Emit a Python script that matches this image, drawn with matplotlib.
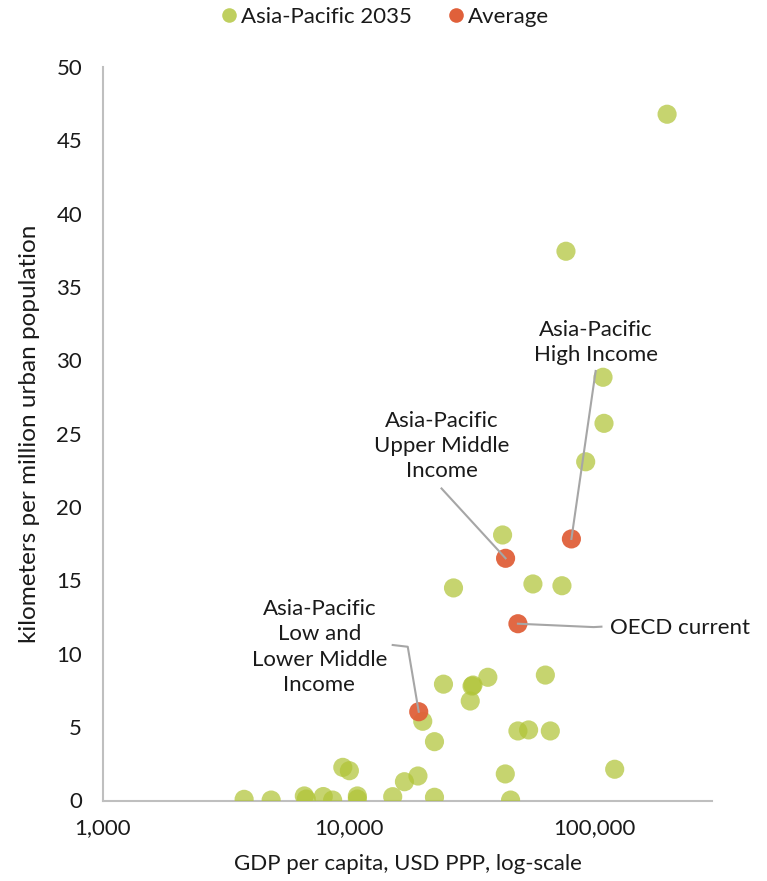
import matplotlib
matplotlib.use("Agg")
import matplotlib.pyplot as plt
from matplotlib.lines import Line2D

plt.rcParams['font.family'] = ['Lato', 'DejaVu Sans']

# Asia-Pacific 2035 points: GDP per capita (USD PPP) and km per million urban population
ap_gdp = [3750, 4830, 6590, 6710, 7870, 8590, 9450, 10050, 10830, 10830,
          15080, 16830, 19100, 19980, 22300, 22300, 24260, 26650, 31990, 31700,
          36760, 31170, 42200, 56070, 73580, 62990, 48720, 53850, 65990, 120600,
          43280, 45480, 76400, 108100, 109100, 91900, 197000]
ap_km = [0.08, 0.03, 0.31, 0.10, 0.27, 0.03, 2.26, 2.03, 0.31, 0.10,
         0.26, 1.28, 1.67, 5.40, 4.01, 0.22, 7.93, 14.49, 7.87, 7.80,
         8.40, 6.78, 18.10, 14.76, 14.64, 8.55, 4.74, 4.81, 4.74, 2.13,
         1.81, 0.03, 37.44, 28.85, 25.71, 23.09, 46.78]

# Averages
avg_names = ["Asia-Pacific\nLow and\nLower Middle\nIncome",
             "Asia-Pacific\nUpper Middle\nIncome",
             "Asia-Pacific\nHigh Income",
             "OECD current"]
avg_gdp = [19240, 43400, 80400, 48720]
avg_km = [6.05, 16.51, 17.83, 12.05]

x_ticks = [1000, 10000, 100000]
x_ticklabels = ["1,000", "10,000", "100,000"]
y_ticks = [0, 5, 10, 15, 20, 25, 30, 35, 40, 45, 50]

GREEN = "#b0c437"
ORANGE = "#e0603a"
GRAY = "#a6a6a6"
AXGRAY = "#bfbfbf"
TXT = "#1a1a1a"
FS = 16
LS = 1.32

fig = plt.figure(figsize=(7.67, 8.81), dpi=100)
ax = fig.add_axes([103/767, 1-800.5/881, (712-103)/767, (800.5-67)/881])

ax.scatter(ap_gdp, ap_km, s=190, color=GREEN, alpha=0.72, edgecolors='none', zorder=3)
ax.scatter(avg_gdp, avg_km, s=190, color=ORANGE, alpha=0.95, edgecolors='none', zorder=4)

ax.set_xscale('log')
ax.set_xlim(1000, 300000)
ax.set_ylim(0, 50)
ax.set_xticks(x_ticks)
ax.set_xticklabels(x_ticklabels)
ax.minorticks_off()
ax.set_yticks(y_ticks)
ax.tick_params(axis='both', length=0, labelsize=FS, colors=TXT)
ax.tick_params(axis='x', pad=13)
ax.tick_params(axis='y', pad=15)
for s in ['top', 'right']:
    ax.spines[s].set_visible(False)
for s in ['left', 'bottom']:
    ax.spines[s].set_color(AXGRAY)
    ax.spines[s].set_linewidth(1.5)
ax.spines['left'].set_zorder(1)
ax.spines['bottom'].set_zorder(1)

ax.set_xlabel("GDP per capita, USD PPP, log-scale", fontsize=FS, color=TXT, labelpad=11)
ax.set_ylabel("kilometers per million urban population", fontsize=17.5, color=TXT, labelpad=12)

# Annotations with leader lines
lw = 1.5
# Low and lower middle
ax.plot([15080, 17360, avg_gdp[0]], [10.60, 10.48, avg_km[0]], color=GRAY, lw=lw, zorder=5)
ax.text(7586, 10.46, avg_names[0], ha='center', va='center', fontsize=FS, color=TXT, linespacing=LS)
# Upper middle
ax.plot([23820, avg_gdp[1]], [21.27, avg_km[1]], color=GRAY, lw=lw, zorder=5)
ax.text(23820, 24.17, avg_names[1], ha='center', va='center', fontsize=FS, color=TXT, linespacing=LS)
# High income
ax.plot([100900, avg_gdp[2]], [29.28, avg_km[2]], color=GRAY, lw=lw, zorder=5)
ax.text(100900, 31.25, avg_names[2], ha='center', va='center', fontsize=FS, color=TXT, linespacing=LS)
# OECD current
ax.plot([avg_gdp[3], 99000, 106500], [avg_km[3], 11.82, 11.85], color=GRAY, lw=lw, zorder=5)
ax.text(115100, 11.76, avg_names[3], ha='left', va='center', fontsize=FS, color=TXT)

handles = [Line2D([], [], marker='o', linestyle='none', markersize=10.5, color=GREEN, alpha=0.8, markeredgewidth=0),
           Line2D([], [], marker='o', linestyle='none', markersize=10.5, color=ORANGE, markeredgewidth=0)]
fig.legend(handles, ["Asia-Pacific 2035", "Average"], loc='center', bbox_to_anchor=(0.5, 1-17/881),
           ncol=2, frameon=False, fontsize=FS, handletextpad=0.05, columnspacing=1.5,
           handlelength=1.0, labelcolor=TXT)

fig.savefig("out.png", dpi=100)
